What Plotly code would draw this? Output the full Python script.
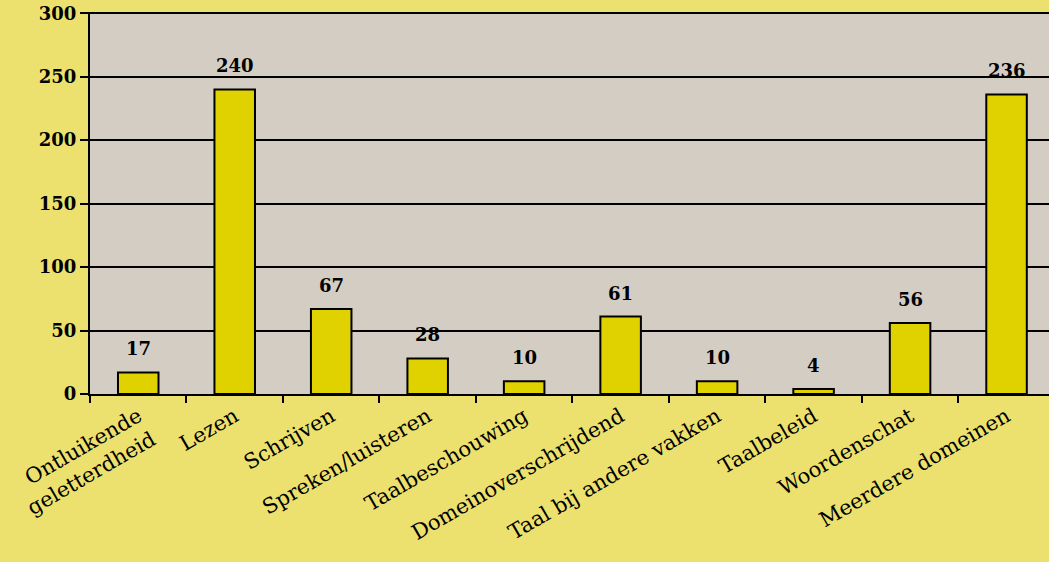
"""Bar chart: aantal items per taaldomein."""

import plotly.graph_objects as go

categories = ['Ontluikende<br>geletterdheid', 'Lezen', 'Schrijven', 'Spreken/luisteren',
              'Taalbeschouwing', 'Domeinoverschrijdend', 'Taal bij andere vakken',
              'Taalbeleid', 'Woordenschat', 'Meerdere domeinen']
counts = [17, 240, 67, 28, 10, 61, 10, 4, 56, 236]
y_ticks = [0, 50, 100, 150, 200, 250, 300]

PAPER = '#ECE16E'
PLOT_BG = '#D4CDC4'
BAR = '#E0D200'
FONT = 'DejaVu Serif'

fig = go.Figure(go.Bar(
    x=categories,
    y=counts,
    width=0.42,
    marker=dict(color=BAR, line=dict(color='black', width=2)),
    hoverinfo='y',
))

# value labels a bit above each bar
for cat, v in zip(categories, counts):
    fig.add_annotation(x=cat, y=v, text=f'<b>{v}</b>', showarrow=False, yanchor='bottom',
                       yshift=11, font=dict(family=FONT, size=18, color='black'))

fig.update_layout(
    width=1049, height=562,
    margin=dict(l=90, r=0, t=12, b=168),
    paper_bgcolor=PAPER,
    plot_bgcolor=PLOT_BG,
    showlegend=False,
)
fig.update_xaxes(
    type='category', range=[-0.5, 9.44],
    tickangle=-30, ticks='outside', tickson='boundaries', ticklen=7, tickwidth=2,
    tickcolor='black', showline=True, linecolor='black', linewidth=2,
    showgrid=False, zeroline=False,
    tickfont=dict(family=FONT, size=21, color='black'),
)
fig.update_yaxes(
    range=[0, 301], tickmode='array', tickvals=y_ticks,
    ticktext=[f'<b>{t}</b>' for t in y_ticks],
    ticks='outside', ticklen=8, tickwidth=2, tickcolor='black',
    showline=True, linecolor='black', linewidth=2,
    showgrid=True, gridcolor='black', gridwidth=1.5, zeroline=False,
    tickfont=dict(family=FONT, size=18, color='black'),
)

fig.write_html('out.html', config={'displayModeBar': False},
               post_script="document.body.style.margin='0';")
